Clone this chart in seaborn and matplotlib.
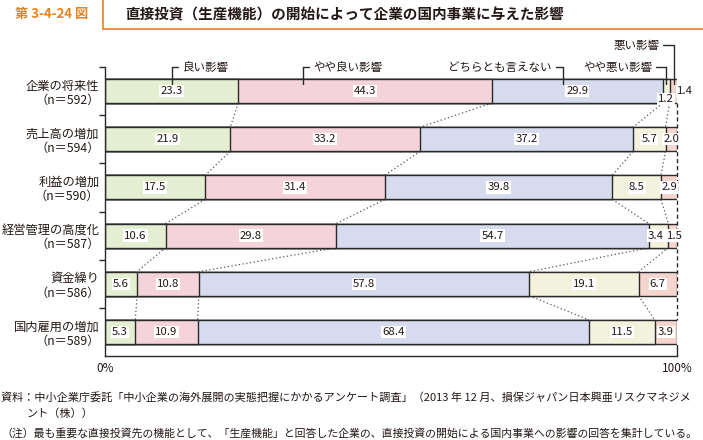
import numpy as np
import pandas as pd
import matplotlib
matplotlib.use("Agg")
import matplotlib.pyplot as plt
from matplotlib.lines import Line2D
import seaborn as sns

# ---------------- data ----------------
categories = ["企業の将来性\n（n＝592）", "売上高の増加\n（n＝594）", "利益の増加\n（n＝590）",
              "経営管理の高度化\n（n＝587）", "資金繰り\n（n＝586）", "国内雇用の増加\n（n＝589）"]
series_names = ["良い影響", "やや良い影響", "どちらとも言えない", "やや悪い影響", "悪い影響"]
good = [23.3, 21.9, 17.5, 10.6, 5.6, 5.3]
slightly_good = [44.3, 33.2, 31.4, 29.8, 10.8, 10.9]
neutral = [29.9, 37.2, 39.8, 54.7, 57.8, 68.4]
slightly_bad = [1.2, 5.7, 8.5, 3.4, 19.1, 11.5]
bad = [1.4, 2.0, 2.9, 1.5, 6.7, 3.9]
x_tick_labels = ["0%", "100%"]

title_tag = "第 3-4-24 図"
title = "直接投資（生産機能）の開始によって企業の国内事業に与えた影響"
notes = ["資料：中小企業庁委託「中小企業の海外展開の実態把握にかかるアンケート調査」（2013 年 12 月、損保ジャパン日本興亜リスクマネジメ",
         "ント（株））",
         "（注）最も重要な直接投資先の機能として、「生産機能」と回答した企業の、直接投資の開始による国内事業への影響の回答を集計している。"]

# ---------------- style ----------------
sns.set_theme(style="white")
plt.rcParams['font.family'] = ['Noto Sans CJK JP', 'DejaVu Sans']
TXT = "#231815"
EDGE = "#2a2a2a"
colors = ["#e4efd1", "#f4d4da", "#d6dcee", "#f3f2dc", "#f5d6cf"]

vals = np.array([good, slightly_good, neutral, slightly_bad, bad]).T  # rows x series
cum = np.cumsum(vals, axis=1)

fig = plt.figure(figsize=(7.03, 4.40), dpi=100)
W, H = 703, 440
ax = fig.add_axes([105 / W, 1 - 356 / H, 572 / W, 289 / H])

# stacked bars via overlapping cumulative bars
for k in reversed(range(5)):
    df = pd.DataFrame({"cat": categories, "cum": cum[:, k]})
    sns.barplot(data=df, x="cum", y="cat", orient="h", color=colors[k], saturation=1,
                width=0.5, edgecolor=EDGE, linewidth=1.0, errorbar=None, ax=ax, zorder=2)

ax.set_xlim(0, 100)
ax.set_ylim(5.5, -0.5)
ax.set_xlabel("")
ax.set_ylabel("")

# axes styling
for s in ["top", "right"]:
    ax.spines[s].set_visible(False)
for s in ["left", "bottom"]:
    ax.spines[s].set_color(EDGE)
    ax.spines[s].set_linewidth(1.0)

ax.set_yticks(np.arange(-0.5, 5.0, 1.0))
ax.set_yticklabels([])
ax.tick_params(axis="y", which="major", direction="out", length=4, width=1.0, color=EDGE, left=True)
ax.set_yticks(np.arange(len(categories)), minor=True)
ax.set_yticklabels(categories, minor=True, fontsize=8.8, color=TXT, linespacing=1.12)
ax.tick_params(axis="y", which="minor", length=0, pad=4)

ax.set_xticks([0, 100])
ax.set_xticklabels(x_tick_labels, fontsize=8.5, color=TXT)
ax.tick_params(axis="x", length=0, pad=4)

# right dashed 100% line
ax.plot([100, 100], [0.25, 4.75], ls=(0, (3, 2)), color=EDGE, lw=1.0, zorder=1, clip_on=False)
ax.plot([100, 100], [5.27, 5.5], ls="-", color=EDGE, lw=1.0, zorder=1, clip_on=False)

# dotted connectors between bars
for i in range(len(categories) - 1):
    for k in range(4):
        ax.plot([cum[i, k], cum[i + 1, k]], [i + 0.25, i + 0.75], ls=(0, (1, 2)),
                color="#555555", lw=0.9, zorder=1.5)

# value labels
box = dict(boxstyle="square,pad=0.1", fc="white", ec="none")
for i in range(len(categories)):
    for k in range(5):
        xc = cum[i, k] - vals[i, k] / 2
        yc = i
        if i == 0 and k == 3:
            yc = i + 0.16
        if i == 0 and k == 4:
            xc = 101.4
        if i == 3 and k == 3:
            xc -= 0.5
        if i == 3 and k == 4:
            xc += 0.3
        ax.text(xc, yc, f"{vals[i, k]:.1f}", ha="center", va="center", fontsize=8.2, color=TXT,
                bbox=box, zorder=5, clip_on=False)

# legend brackets
def bracket(xv, ytxt, text, side, hook, gap):
    ybar = -0.145
    ax.plot([xv, xv], [ytxt, ybar], color=EDGE, lw=1.0, clip_on=False, zorder=6)
    if side == "right":
        ax.plot([xv, xv + hook], [ytxt, ytxt], color=EDGE, lw=1.0, clip_on=False, zorder=6)
        ax.text(xv + hook + gap, ytxt, text, ha="left", va="center", fontsize=8.3, color=TXT, clip_on=False)
    else:
        ax.plot([xv - hook, xv], [ytxt, ytxt], color=EDGE, lw=1.0, clip_on=False, zorder=6)
        ax.text(xv - hook - gap, ytxt, text, ha="right", va="center", fontsize=8.3, color=TXT, clip_on=False)

seg_center_row0 = cum[0] - vals[0] / 2
bracket(seg_center_row0[0], -0.5, series_names[0], "right", 1.1, 0.8)
bracket(34.6, -0.5, series_names[1], "right", 1.1, 0.8)
bracket(80.0, -0.5, series_names[2], "left", 1.2, 0.8)
bracket(seg_center_row0[3], -0.5, series_names[3], "left", 1.8, 0.6)
bracket(99.5, -0.955, series_names[4], "left", 1.9, 0.6)

# ---------------- header ----------------
ORANGE = "#e8821e"
fig.add_artist(Line2D([103 / W, 103 / W], [1, 1 - 29 / H], color=ORANGE, lw=1.2))
fig.add_artist(Line2D([103 / W, 1], [1 - 29 / H, 1 - 29 / H], color=ORANGE, lw=1.2))
fig.text(15 / W, 1 - 14 / H, title_tag, ha="left", va="center", fontsize=9.5,
         fontweight="bold", color=ORANGE)
fig.text(125 / W, 1 - 14 / H, title, ha="left", va="center", fontsize=10.5,
         fontweight="bold", color=TXT)

# ---------------- notes ----------------
fig.text(1 / W, 1 - 397 / H, notes[0], ha="left", va="center", fontsize=8.0, color=TXT)
fig.text(26 / W, 1 - 414 / H, notes[1], ha="left", va="center", fontsize=8.0, color=TXT)
fig.text(1 / W, 1 - 433 / H, notes[2], ha="left", va="center", fontsize=7.85, color=TXT)

fig.savefig("out.png", dpi=100)
